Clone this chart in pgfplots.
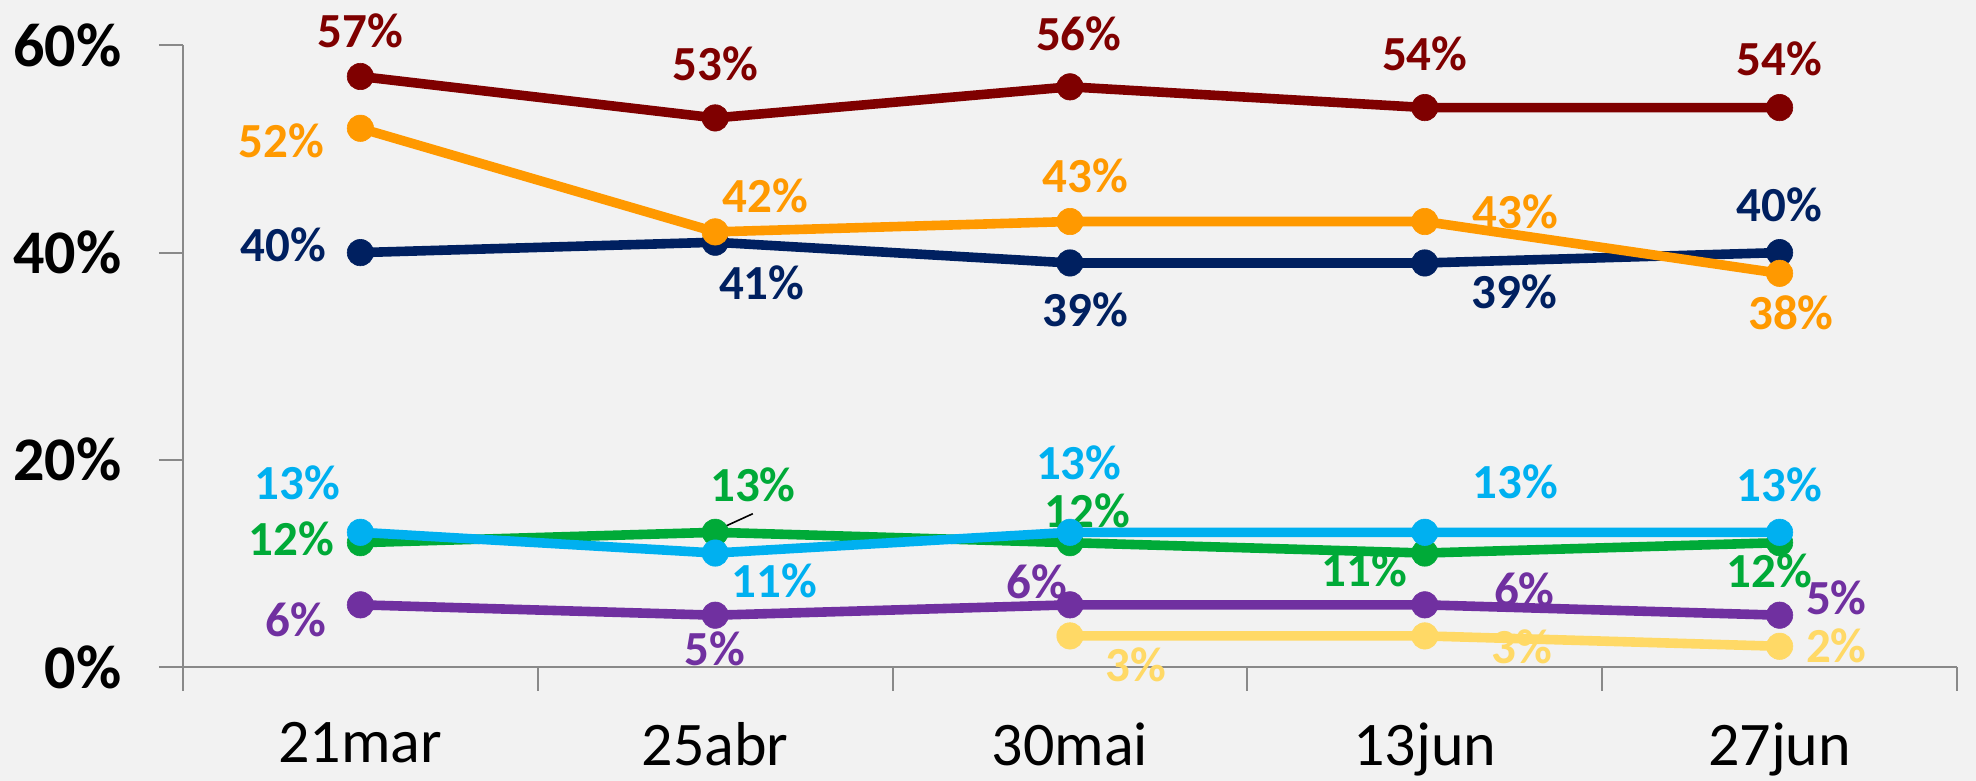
\documentclass[border=0pt]{standalone}
\usepackage{fontspec}
\setmainfont{Carlito}
\usepackage{pgfplots}
\pgfplotsset{compat=1.18}
\definecolor{bgc}{HTML}{F2F2F2}
\definecolor{axc}{HTML}{898989}
\definecolor{cred}{HTML}{7F0000}
\definecolor{cora}{HTML}{FF9900}
\definecolor{cnav}{HTML}{002060}
\definecolor{ccya}{HTML}{00B0F0}
\definecolor{cgre}{HTML}{00AA38}
\definecolor{cpur}{HTML}{7030A0}
\definecolor{cyel}{HTML}{FFD966}
\newcommand{\dlf}{\fontsize{24.5}{24.5}\selectfont\bfseries}
\newcommand{\lb}[6]{\node[font=\dlf, text=#5, inner sep=0pt, xshift=#3*0.63pt, yshift=#4*0.63pt] at (axis cs:#1,#2) {#6};}
\begin{document}
\begin{tikzpicture}
\fill[bgc] (-91.5pt,-57pt) rectangle (896.5pt,333.5pt);
\useasboundingbox (-91.5pt,-57pt) rectangle (896.5pt,333.5pt);
\begin{axis}[
  at={(0,0)}, anchor=south west,
  scale only axis, width=887pt, height=310.8pt,
  xmin=-0.5, xmax=4.5, ymin=0, ymax=60,
  clip=false,
  axis lines*=left,
  axis line style={axc, line width=1pt},
  tick align=outside,
  major tick length=12pt,
  tick style={axc, line width=1pt},
  xtick={-0.5,0.5,1.5,2.5,3.5,4.5},
  xticklabels={,,,,,},
  extra x ticks={0,1,2,3,4},
  extra x tick labels={21mar,25abr,30mai,13jun,27jun},
  extra x tick style={tick style={draw=none}},
  ytick={0,20,40,60},
  yticklabels={0\%,20\%,40\%,60\%},
  yticklabel style={font=\fontsize{31}{31}\selectfont\bfseries, anchor=east, inner sep=0pt, xshift=-18.5pt},
  xticklabel style={font=\fontsize{31}{31}\selectfont, anchor=north, inner sep=0pt, yshift=-15.5pt},
  every axis plot/.append style={line width=4.8pt, mark=*, mark size=6.6pt, mark options={line width=0.3pt}},
]
\addplot[color=cred] coordinates {(0,57)(1,53)(2,56)(3,54)(4,54)};
\addplot[color=cnav] coordinates {(0,40)(1,41)(2,39)(3,39)(4,40)};
\addplot[color=cora] coordinates {(0,52)(1,42)(2,43)(3,43)(4,38)};
\addplot[color=cgre] coordinates {(0,12)(1,13)(2,12)(3,11)(4,12)};
\addplot[color=ccya] coordinates {(0,13)(1,11)(2,13)(3,13)(4,13)};
\addplot[color=cpur] coordinates {(0,6)(1,5)(2,6)(3,6)(4,5)};
\addplot[color=cyel] coordinates {(2,3)(3,3)(4,2)};
% dark red
\lb{0}{57}{0}{36}{cred}{57\%}
\lb{1}{53}{0}{43}{cred}{53\%}
\lb{2}{56}{7}{42}{cred}{56\%}
\lb{3}{54}{0}{43}{cred}{54\%}
\lb{4}{54}{0}{39}{cred}{54\%}
% orange
\lb{0}{52}{-63}{-10}{cora}{52\%}
\lb{1}{42}{40}{29}{cora}{42\%}
\lb{2}{43}{12}{36}{cora}{43\%}
\lb{3}{43}{72}{8}{cora}{43\%}
\lb{4}{38}{9}{-31}{cora}{38\%}
% navy
\lb{0}{40}{-61}{6}{cnav}{40\%}
\lb{1}{41}{37}{-32}{cnav}{41\%}
\lb{2}{39}{12}{-37}{cnav}{39\%}
\lb{3}{39}{71}{-23}{cnav}{39\%}
\lb{4}{40}{0}{38}{cnav}{40\%}
% cyan
\lb{0}{13}{-50}{39}{ccya}{13\%}
\lb{1}{11}{47}{-22}{ccya}{11\%}
\lb{2}{13}{7}{55}{ccya}{13\%}
\lb{3}{13}{72}{40}{ccya}{13\%}
\lb{4}{13}{0}{38}{ccya}{13\%}
% green
\lb{0}{12}{-55}{3}{cgre}{12\%}
\lb{1}{13}{30}{38}{cgre}{13\%}
\lb{2}{12}{14}{25}{cgre}{12\%}
\lb{3}{11}{-48}{-13}{cgre}{11\%}
\lb{4}{12}{-8}{-22}{cgre}{12\%}
\draw[black, line width=0.8pt] (axis cs:1,13) ++(1.3pt,1.3pt) -- ++(17.5pt,8pt);
% purple
\lb{0}{6}{-51}{-12}{cpur}{6\%}
\lb{1}{5}{0}{-27}{cpur}{5\%}
\lb{2}{6}{-26}{18}{cpur}{6\%}
\lb{3}{6}{79}{12}{cpur}{6\%}
\lb{4}{5}{45}{14}{cpur}{5\%}
% yellow
\lb{2}{3}{52}{-23}{cyel}{3\%}
\lb{3}{3}{77}{-9}{cyel}{3\%}
\lb{4}{2}{45}{0}{cyel}{2\%}
\end{axis}
\end{tikzpicture}
\end{document}
